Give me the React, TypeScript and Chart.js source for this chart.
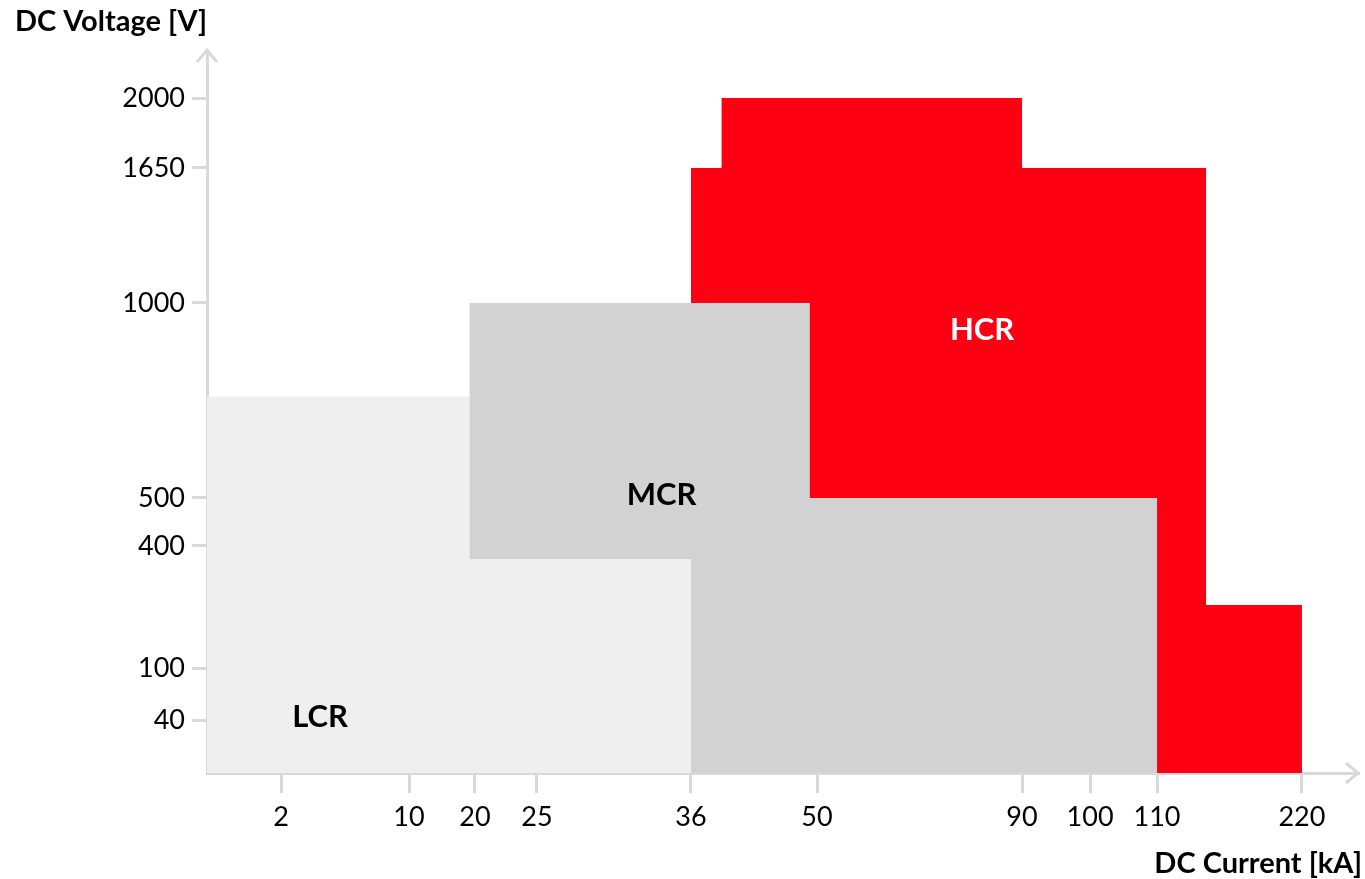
import React, { useEffect, useRef } from 'react';
import { Chart, LinearScale, registerables } from 'chart.js';

// ---- data ----
const X_TICKS = [2, 10, 20, 25, 36, 50, 90, 100, 110, 220];
const Y_TICKS = [40, 100, 400, 500, 1000, 1650, 2000];

// Regions (DC current kA, DC voltage V) as polygon outlines
const HCR_X = [36, 36, 39.4, 39.4, 90, 90, 147.2, 147.2, 220, 220];
const HCR_Y = [0, 1650, 1650, 2000, 2000, 1650, 1650, 255, 255, 0];
const LCR_X = [0, 0, 36, 36];
const LCR_Y = [0, 760, 760, 0];
const MCR_X = [19.2, 19.2, 49.2, 49.2, 110, 110, 36, 36];
const MCR_Y = [368, 1000, 1000, 500, 500, 0, 0, 368];

const REGION_NAMES = ['LCR', 'MCR', 'HCR'];
const REGION_LABEL_X = [4.44, 33.9, 82.2];
const REGION_LABEL_Y = [43.5, 508, 931];

// ---- axis layout (schematic, non-proportional axes) ----
// fraction of axis length where each tick sits (0 = origin, 1 = arrow tip)
const X_TICK_POS = [0.0643, 0.1755, 0.2328, 0.2867, 0.4205, 0.53, 0.7081, 0.7672, 0.8254, 0.9513];
const Y_TICK_POS = [0.0733, 0.1452, 0.314, 0.3804, 0.6501, 0.8368, 0.9336];
const X_END = 250;
const Y_END = 2300;

const MAP: Record<string, { s: number[]; p: number[] }> = {
  x: { s: [0, ...X_TICKS, X_END], p: [0, ...X_TICK_POS, 1] },
  y: { s: [0, ...Y_TICKS, Y_END], p: [0, ...Y_TICK_POS, 1] },
};

function toFrac(v: number, m: { s: number[]; p: number[] }) {
  const { s, p } = m;
  let i = 0;
  while (i < s.length - 2 && v > s[i + 1]) i++;
  return p[i] + ((v - s[i]) / (s[i + 1] - s[i])) * (p[i + 1] - p[i]);
}
function fromFrac(d: number, m: { s: number[]; p: number[] }) {
  const { s, p } = m;
  let i = 0;
  while (i < p.length - 2 && d > p[i + 1]) i++;
  return s[i] + ((d - p[i]) / (p[i + 1] - p[i])) * (s[i + 1] - s[i]);
}

class PiecewiseScale extends LinearScale {
  static id = 'piecewise';
  static defaults = {};
  buildTicks() {
    const m = MAP[(this as any).id];
    return m.s.slice(1, -1).map((v) => ({ value: v }));
  }
  getPixelForValue(value: number) {
    if (value === null || value === undefined || isNaN(value)) return NaN;
    return this.getPixelForDecimal(toFrac(value, MAP[(this as any).id]));
  }
  getValueForPixel(pixel: number) {
    return fromFrac(this.getDecimalForPixel(pixel), MAP[(this as any).id]);
  }
}

Chart.register(...registerables, PiecewiseScale as any);

const AXIS = '#d9d9d9';
const FONT = 'Lato, "Open Sans", sans-serif';
const COLORS = { LCR: '#efefef', MCR: '#d2d2d2', HCR: '#ff0012' };

const toPts = (xs: number[], ys: number[]) => xs.map((x, i) => ({ x, y: ys[i] }));

const decorPlugin = {
  id: 'decor',
  afterDraw(chart: any) {
    const { ctx, chartArea } = chart;
    const { left, right, top, bottom } = chartArea;
    const xs = chart.scales.x;
    const ys = chart.scales.y;
    ctx.save();
    // arrows
    ctx.strokeStyle = AXIS;
    ctx.lineWidth = 3;
    ctx.beginPath();
    ctx.moveTo(left - 10, top + 12);
    ctx.lineTo(left, top);
    ctx.lineTo(left + 10, top + 12);
    ctx.moveTo(right - 12, bottom - 10);
    ctx.lineTo(right, bottom);
    ctx.lineTo(right - 12, bottom + 10);
    ctx.stroke();
    // region labels
    ctx.textAlign = 'center';
    ctx.textBaseline = 'middle';
    ctx.font = `bold 31px ${FONT}`;
    REGION_NAMES.forEach((name, i) => {
      ctx.fillStyle = name === 'HCR' ? '#ffffff' : '#000000';
      ctx.fillText(name, xs.getPixelForValue(REGION_LABEL_X[i]), ys.getPixelForValue(REGION_LABEL_Y[i]));
    });
    // axis titles
    ctx.fillStyle = '#000';
    ctx.font = `bold 29px ${FONT}`;
    ctx.textAlign = 'left';
    ctx.fillText('DC Voltage [V]', 15, 22);
    ctx.textAlign = 'right';
    ctx.fillText('DC Current [kA]', 1362, 864);
    ctx.restore();
  },
};

export default function App() {
  const ref = useRef<HTMLCanvasElement>(null);
  useEffect(() => {
    if (!ref.current) return;
    const ds = (label: string, xs: number[], ys: number[], color: string, order: number) => ({
      label,
      data: toPts(xs, ys),
      backgroundColor: color,
      borderColor: 'rgba(0,0,0,0)',
      borderWidth: 0,
      pointRadius: 0,
      pointHoverRadius: 0,
      tension: 0,
      fill: 'shape',
      order,
    });
    const tickFont = { family: FONT, size: 27 };
    const chart = new Chart(ref.current, {
      type: 'line',
      data: {
        datasets: [
          ds('MCR', MCR_X, MCR_Y, COLORS.MCR, 0),
          ds('LCR', LCR_X, LCR_Y, COLORS.LCR, 1),
          ds('HCR', HCR_X, HCR_Y, COLORS.HCR, 2),
        ] as any,
      },
      options: {
        animation: false,
        responsive: false,
        events: [],
        layout: { padding: { top: 50, right: 7, left: 0, bottom: 0 } },
        plugins: { legend: { display: false }, tooltip: { enabled: false } },
        scales: {
          x: {
            type: 'piecewise' as any,
            position: 'bottom',
            min: 0,
            max: X_END,
            z: 1,
            grid: { drawOnChartArea: false, drawTicks: true, tickLength: 20, color: AXIS, lineWidth: 3 },
            border: { display: true, color: AXIS, width: 3 },
            ticks: { autoSkip: false, maxRotation: 0, padding: 8, color: '#000', font: tickFont, callback: (v: any) => String(v) },
            afterFit: (s: any) => { s.height = 106; },
          } as any,
          y: {
            type: 'piecewise' as any,
            position: 'left',
            min: 0,
            max: Y_END,
            z: 1,
            grid: { drawOnChartArea: false, drawTicks: true, tickLength: 15, color: AXIS, lineWidth: 3 },
            border: { display: true, color: AXIS, width: 3 },
            ticks: { autoSkip: false, padding: 7, color: '#000', font: tickFont, callback: (v: any) => String(v) },
            afterFit: (s: any) => { s.width = 207; },
          } as any,
        },
      },
      plugins: [decorPlugin],
    });
    return () => chart.destroy();
  }, []);
  return (
    <div style={{ position: 'absolute', left: 0, top: 0, width: 1365, height: 879, background: '#fff' }}>
      <canvas ref={ref} width={1365} height={879} />
    </div>
  );
}
